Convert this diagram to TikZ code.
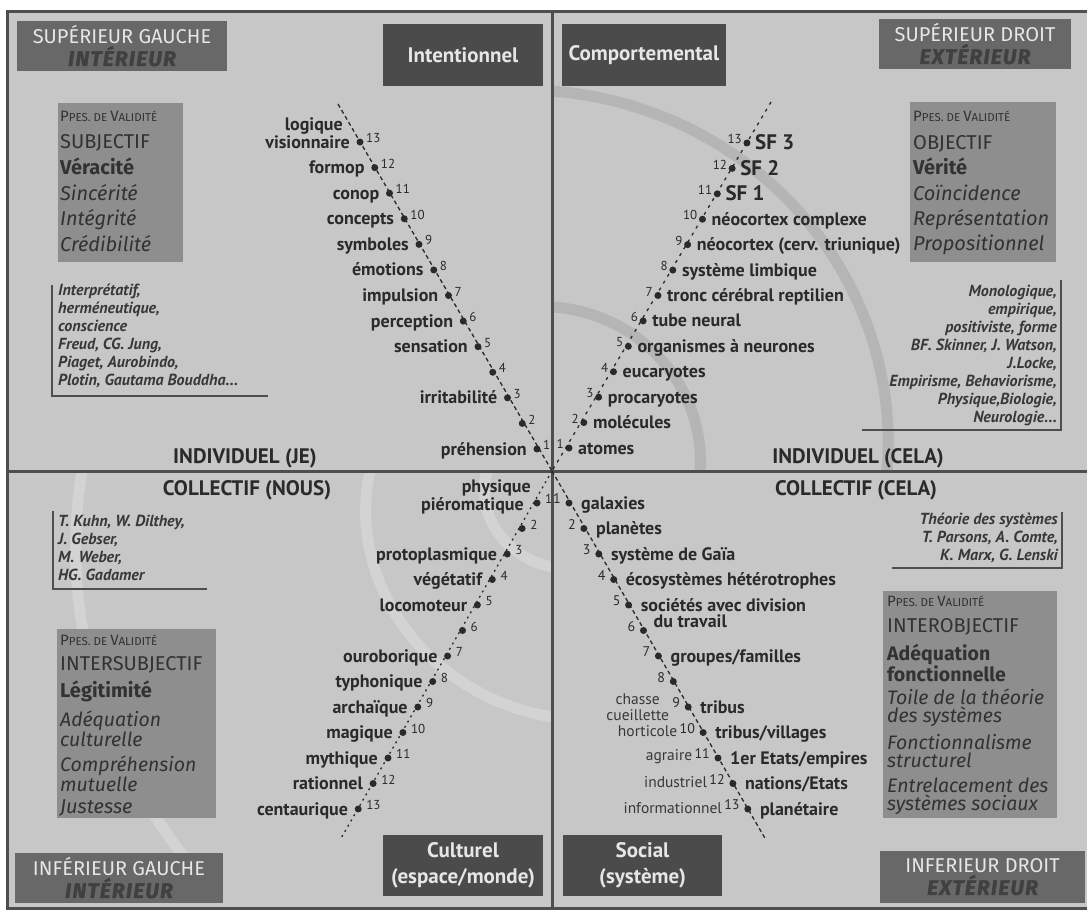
\documentclass[tikz,border=0pt]{standalone}
\usepackage{fontspec}
\setmainfont{PT Sans}
\newfontfamily\boxfont{Fira Sans}
\usetikzlibrary{calc}

\definecolor{paper}{HTML}{C7C7C7}
\definecolor{rule}{HTML}{4E4E4E}
\definecolor{tagfill}{HTML}{686868}
\definecolor{tagdark}{HTML}{404040}
\definecolor{pale}{HTML}{E6E6E6}
\definecolor{boxdark}{HTML}{4B4B4B}
\definecolor{valfill}{HTML}{8E8E8E}
\definecolor{ink}{HTML}{2A2A2A}
\definecolor{valink}{HTML}{323232}
\definecolor{refink}{HTML}{383838}
\definecolor{bandlight}{HTML}{D3D3D3}
\definecolor{banddark}{HTML}{B5B5B5}

\newcommand\fsz[1]{\fontsize{#1}{#1}\selectfont}
\newcommand\ppesline{{\fsz{15}P}{\fsz{11.5}PES. DE }{\fsz{15}V}{\fsz{11.5}ALIDITÉ}}
\newcommand\tagsub[1]{{\color{tagdark}\fsz{21}\bfseries\itshape\addfontfeature{FakeBold=1.5,LetterSpace=6}#1}}

\begin{document}
\begin{tikzpicture}[x=1pt,y=-1pt,
  frameline/.style={draw=rule, line width=3pt},
  band/.style={line width=11pt},
  dot/.style={circle, fill=ink, inner sep=0pt, minimum size=7pt},
  num/.style={font=\fsz{13}, text=ink, inner sep=0pt},
  lbl/.style={font=\bfseries\fsz{18}, text=ink, inner sep=0pt},
  minor/.style={font=\fsz{15.5}, text=refink, inner sep=0pt},
  head/.style={font=\bfseries\fsz{21}, text=ink, inner sep=0pt},
  tagbox/.style={fill=tagfill, align=center, inner sep=0pt, font=\boxfont\fontsize{20}{22}\selectfont},
  darkbox/.style={fill=boxdark, text=pale, align=center, inner sep=0pt, font=\bfseries\fontsize{21}{26}\selectfont},
  valbox/.style={fill=valfill, inner sep=0pt},
  vt/.style={anchor=base west, inner sep=0pt, text=valink, font=\boxfont\fsz{20}},
  vpair/.style={anchor=north west, align=left, inner sep=0pt, text=valink},
  reftext/.style={inner sep=0pt, text=refink, font=\bfseries\itshape\fontsize{16}{18}\selectfont},
  refrule/.style={draw=rule, line width=1.4pt},
  tlpath/.style={draw=ink, line width=1.3pt, dash pattern=on 4pt off 3pt},
  trpath/.style={draw=ink, line width=1.3pt, dash pattern=on 3pt off 5pt},
  blpath/.style={draw=ink, line width=1.3pt, dash pattern=on 2pt off 4pt},
  brpath/.style={draw=ink, line width=1.3pt, dash pattern=on 4pt off 3pt}
]
\useasboundingbox (0,0) rectangle (1087,916);
\fill[white] (0,0) rectangle (1087,916);
\fill[paper] (7,11) rectangle (1087,908);

% spiral bands behind everything
\begin{scope}
  \clip (7,11) rectangle (1087,908);
  \draw[band, bandlight] plot[domain=180:270, samples=40, variable=\t]
    ({552+(65+31*(\t-180)/90)*cos(\t)}, {471-(65+31*(\t-180)/90)*sin(\t)});
  \draw[band, bandlight] plot[domain=180:270, samples=40, variable=\t]
    ({552+(182+64*(\t-180)/90)*cos(\t)}, {471-(182+64*(\t-180)/90)*sin(\t)});
  \draw[band, bandlight] plot[domain=180:232, samples=40, variable=\t]
    ({552+(470+75*(\t-180)/55)*cos(\t)}, {471-(470+75*(\t-180)/55)*sin(\t)});
  \draw[band, banddark] plot[domain=0:90, samples=40, variable=\t]
    ({552+(148+16*\t/90)*cos(\t)}, {471-(148+16*\t/90)*sin(\t)});
  \draw[band, banddark] plot[domain=0:90, samples=40, variable=\t]
    ({552+(335+45*\t/90)*cos(\t)}, {471-(335+45*\t/90)*sin(\t)});
\end{scope}

% frame and quadrant dividers
\coordinate (O) at (552,471);
\draw[frameline] (1087,11) -- (7,11) -- (7,908) -- (1087,908);
\draw[frameline] (552,11) -- (552,908);
\draw[frameline] (7,471) -- (1087,471);

% corner tags
\node[tagbox, minimum width=210pt, minimum height=50pt] (tagSG) at (122,46)
  {{\color{pale}SUPÉRIEUR GAUCHE}\\\tagsub{INTÉRIEUR}};
\node[tagbox, minimum width=192pt, minimum height=50pt] (tagSD) at (975,44)
  {{\color{pale}SUPÉRIEUR DROIT}\\\tagsub{EXTÉRIEUR}};
\node[tagbox, minimum width=208pt, minimum height=50pt] (tagIG) at (119,878)
  {{\color{pale}INFÉRIEUR GAUCHE}\\\tagsub{INTÉRIEUR}};
\node[tagbox, minimum width=205pt, minimum height=52pt] (tagID) at (982.5,877)
  {{\color{pale}INFERIEUR DROIT}\\\tagsub{EXTÉRIEUR}};

% dark quadrant titles
\node[darkbox, minimum width=160pt, minimum height=62pt] (bInt) at (463,55) {Intentionnel};
\node[darkbox, minimum width=164pt, minimum height=62pt] (bComp) at (644,55) {Comportemental};
\node[darkbox, minimum width=160pt, minimum height=61pt] (bCult) at (463,865.5) {Culturel\\(espace/monde)};
\node[darkbox, minimum width=159pt, minimum height=61pt] (bSoc) at (642.5,865.5) {Social\\(système)};

% validity boxes
\node[valbox, minimum width=125pt, minimum height=159pt] (vTL) at (120.5,182.5) {};
\node[vt] (vTL1) at (60,121) {\ppesline};
\node[vt] (vTL2) at (60,148) {SUBJECTIF};
\node[vt, font=\boxfont\bfseries\fsz{20}] (vTL3) at (60,174) {Véracité};
\node[vt, font=\boxfont\itshape\fsz{20}] (vTL4) at (60,200) {Sincérité};
\node[vt, font=\boxfont\itshape\fsz{20}] (vTL5) at (60,225) {Intégrité};
\node[vt, font=\boxfont\itshape\fsz{20}] (vTL6) at (60,251) {Crédibilité};

\node[valbox, minimum width=146pt, minimum height=160pt] (vTR) at (983,182) {};
\node[vt] (vTR1) at (913,121) {\ppesline};
\node[vt] (vTR2) at (913,149) {OBJECTIF};
\node[vt, font=\boxfont\bfseries\fsz{20}] (vTR3) at (913,174) {Vérité};
\node[vt, font=\boxfont\itshape\fsz{20}] (vTR4) at (913,200) {Coïncidence};
\node[vt, font=\boxfont\itshape\fsz{20}] (vTR5) at (913,225) {Représentation};
\node[vt, font=\boxfont\itshape\fsz{20}] (vTR6) at (913,250) {Propositionnel};

\node[valbox, minimum width=159pt, minimum height=189pt] (vBL) at (136.5,723.5) {};
\node[vt] (vBL1) at (60,645) {\ppesline};
\node[vt] (vBL2) at (60,670) {INTERSUBJECTIF};
\node[vt, font=\boxfont\bfseries\fsz{20}] (vBL3) at (60,697) {Légitimité};
\node[vpair, font=\boxfont\itshape\fontsize{19.5}{18}\selectfont] (vBL4) at (60,711) {Adéquation\\culturelle};
\node[vpair, font=\boxfont\itshape\fontsize{19.5}{18}\selectfont] (vBL6) at (60,756) {Compréhension\\mutuelle};
\node[vt, font=\boxfont\itshape\fsz{20}] (vBL8) at (60,813) {Justesse};

\node[valbox, minimum width=174pt, minimum height=227pt] (vBR) at (970,704.5) {};
\node[vt] (vBR1) at (887,606) {\ppesline};
\node[vt] (vBR2) at (887,632) {INTEROBJECTIF};
\node[vpair, font=\boxfont\bfseries\fontsize{19.5}{18}\selectfont] (vBR3) at (887,644) {Adéquation\\fonctionnelle};
\node[vpair, font=\boxfont\itshape\fontsize{19.5}{18}\selectfont] (vBR5) at (887,689) {Toile de la théorie\\des systèmes};
\node[vpair, font=\boxfont\itshape\fontsize{19.5}{18}\selectfont] (vBR7) at (887,734) {Fonctionnalisme\\structurel};
\node[vpair, font=\boxfont\itshape\fontsize{19.5}{18}\selectfont] (vBR9) at (887,778) {Entrelacement des\\systèmes sociaux};

% reference notes with their bracket rules
\node[reftext, align=left, anchor=north west] (rTL) at (58,284)
  {Interprétatif,\\herméneutique,\\conscience\\Freud, CG. Jung,\\Piaget, Aurobindo,\\Plotin, Gautama Bouddha...};
\draw[refrule] (52,285) -- (52,396) -- (268,396);
\node[reftext, align=right, anchor=north east] (rTR) at (1057,285)
  {Monologique,\\empirique,\\positiviste, forme\\BF. Skinner, J. Watson,\\J.Locke,\\Empirisme, Behaviorisme,\\Physique,Biologie,\\Neurologie...};
\draw[refrule] (1061,280) -- (1061,430) -- (862,430);
\node[reftext, align=left, anchor=north west] (rBL) at (58,515)
  {T. Kuhn, W. Dilthey,\\J. Gebser,\\M. Weber,\\HG. Gadamer};
\draw[refrule] (53,511) -- (53,589) -- (207,589);
\node[reftext, align=right, anchor=north east] (rBR) at (1058,513)
  {Théorie des systèmes\\T. Parsons, A. Comte,\\K. Marx, G. Lenski};
\draw[refrule] (1062,512) -- (1062,568) -- (892,568);

% quadrant headings
\node[head] (hIJ) at (245,458) {INDIVIDUEL (JE)};
\node[head] (hIC) at (858,458) {INDIVIDUEL (CELA)};
\node[head] (hCN) at (247,490) {COLLECTIF (NOUS)};
\node[head] (hCC) at (856,490) {COLLECTIF (CELA)};

% developmental lines
\coordinate (tlTop) at (338,104);
\coordinate (trTop) at (771,102);
\coordinate (blEnd) at (340,840);
\coordinate (brEnd) at (766,840);
\draw[tlpath] (tlTop) -- (O);
\draw[trpath] (trTop) -- (O);
\draw[blpath] (O) -- (blEnd);
\draw[brpath] (O) -- (brEnd);

% upper left: interior individual
\foreach \n in {1,...,13} {
  \node[dot] (tl\n) at ({537-(\n-1)*14.75},{449-(\n-1)*25.58}) {};
  \node[num, anchor=west] (tln\n) at ([xshift=6pt,yshift=4pt]tl\n.center) {\n};
}
\foreach \n/\t in {1/préhension,3/irritabilité,5/sensation,6/perception,7/impulsion,8/émotions,9/symboles,10/concepts,11/conop,12/formop,13/visionnaire}
  \node[lbl, anchor=base east] (tll\n) at ([xshift=-10pt,yshift=-6pt]tl\n.center) {\t};
\node[lbl, anchor=base east] (tllq) at ([xshift=-17pt,yshift=12pt]tl13.center) {logique};

% upper right: exterior individual
\foreach \n in {1,...,13} {
  \node[dot] (tr\n) at ({569+(\n-1)*14.83},{448-(\n-1)*25.42}) {};
  \node[num, anchor=east] (trn\n) at ([xshift=-5pt,yshift=4pt]tr\n.center) {\n};
}
\foreach \n/\t in {1/atomes,2/molécules,3/procaryotes,4/eucaryotes,5/organismes à neurones,6/tube neural,7/tronc cérébral reptilien,8/système limbique,9/néocortex (cerv. triunique),10/néocortex complexe}
  \node[lbl, anchor=base west] (trl\n) at ([xshift=9pt,yshift=-6pt]tr\n.center) {\t};
\foreach \n in {11,12,13} {
  \pgfmathtruncatemacro\sf{\n-10}
  \node[lbl, font=\bfseries\fsz{21}, anchor=base west] (trl\n) at ([xshift=8pt,yshift=-7pt]tr\n.center) {SF \sf};
}

% lower left: interior collective
\foreach \n in {1,...,13} {
  \node[dot] (bl\n) at ({537-(\n-1)*14.9},{503+(\n-1)*25.5}) {};
  \node[num, anchor=west] (bln\n) at ([xshift=8pt,yshift=4pt]bl\n.center) {\n};
}
\foreach \n/\t in {3/protoplasmique,4/végétatif,5/locomoteur,7/ouroborique,8/typhonique,9/archaïque,10/magique,11/mythique,12/rationnel,13/centaurique}
  \node[lbl, anchor=base east] (bll\n) at ([xshift=-10pt,yshift=-6pt]bl\n.center) {\t};
\node[lbl, anchor=base east] (bllb) at ([xshift=-13pt,yshift=-7pt]bl1.center) {piéromatique};
\node[lbl, anchor=base east] (blla) at ([xshift=-6pt,yshift=11pt]bl1.center) {physique};

% lower right: exterior collective
\foreach \n in {1,...,13} {
  \node[dot] (br\n) at ({569+(\n-1)*14.9},{503+(\n-1)*25.5}) {};
  \node[num, font=\fsz{14}, anchor=east] (brn\n) at ([xshift=-8pt,yshift=4pt]br\n.center) {\n};
}
\foreach \n/\t in {1/galaxies,2/planètes,3/système de Gaïa,4/écosystèmes hétérotrophes,5/sociétés avec division,7/{groupes/familles},9/tribus,10/{tribus/villages},11/{1er Etats/empires},12/{nations/Etats},13/planétaire}
  \node[lbl, anchor=base west] (brl\n) at ([xshift=12pt,yshift=-6pt]br\n.center) {\t};
\node[lbl, anchor=base west] (brl6) at ([xshift=10pt,yshift=3pt]br6.center) {du travail};
\foreach \n/\t in {10/horticole,11/agraire,12/industriel,13/informationnel}
  \node[minor, anchor=east] (brm\n) at ([xshift=-2pt,yshift=-3pt]brn\n.west) {\t};
\node[minor, anchor=east, align=center, font=\fontsize{15.5}{16}\selectfont] (brm9) at ([xshift=-3pt,yshift=-4pt]brn9.west) {chasse\\cueillette};

\end{tikzpicture}
\end{document}
